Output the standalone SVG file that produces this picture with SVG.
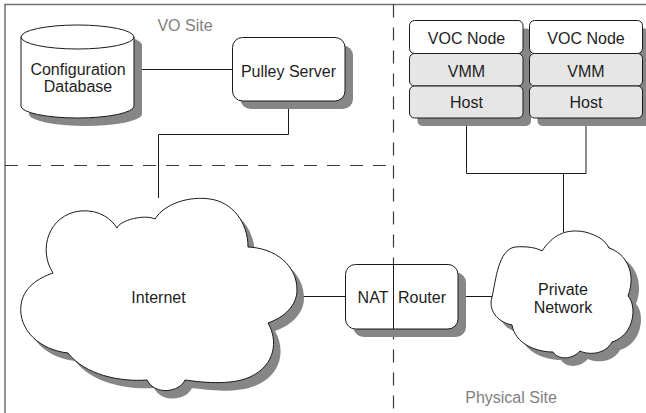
<svg xmlns="http://www.w3.org/2000/svg" width="646" height="413" viewBox="0 0 646 413">
  <style>
    .frame{fill:none;stroke:#707070;stroke-width:1.5}
    .dash{fill:none;stroke:#3a3a3a;stroke-width:1.2;stroke-dasharray:13 10}
    .shadow{fill:#868686;stroke:none}
    .shape{fill:#ffffff;stroke:#1a1a1a;stroke-width:1}
    .gray{fill:#e6e6e6;stroke:#1a1a1a;stroke-width:1}
    .wire{fill:none;stroke:#1a1a1a;stroke-width:1}
    text{font-family:"Liberation Sans",Arial,sans-serif;font-size:16px;fill:#1e1e1e;text-anchor:middle}
    text.site{fill:#808080}
  </style>
  <defs>
    <path id="cloud-internet" d="M53,273 C38,250 48,215 80,211 C100,209 112,220 117,228 C120,220 145,214 155,219 C165,203 190,196 210,199 C232,202 248,222 248,247 C275,248 297,265 297,290 C297,305 285,317 268,323 C278,340 276,365 250,377 C230,386 200,382 185,380 C180,392 155,396 147,380 C120,382 85,375 68,353 C40,350 18,330 21,305 C23,288 38,278 53,273 Z"/>
    <path id="cloud-private" d="M492,297 C496,280 498,250 515,247 C528,246 537,248 542,251 C552,236 565,228 585,232 C597,235 605,240 609,248 C625,253 637,272 628,296 C637,305 635,335 612,342 C605,355 588,355 580,351 C572,360 558,360 553,352 C535,352 515,343 512,325 C497,322 488,310 492,297 Z"/>
    <path id="cylinder-body" d="M21,37 A56.5,12 0 0 1 134,37 V106 A56.5,12 0 0 1 21,106 Z"/>
  </defs>

  <!-- site boundaries -->
  <g id="boundaries">
    <path class="frame" d="M5,413 V4.5 H646"/>
    <path class="dash" d="M5,165.5 H393.5"/>
    <path class="dash" d="M393.5,4.5 V413"/>
    <text class="site" x="185" y="31">VO Site</text>
    <text class="site" x="511" y="403">Physical Site</text>
  </g>

  <!-- connectors -->
  <g id="connectors">
    <path class="wire" d="M134,69.5 H232.5"/>
    <path class="wire" d="M288.5,101 V134.5 H158.5 V198"/>
    <path class="wire" d="M297,296.5 H345.5"/>
    <path class="wire" d="M458,296.5 H492"/>
    <path class="wire" d="M466.5,118 V173.5 H586 V118"/>
    <path class="wire" d="M563.5,173.5 V232"/>
  </g>

  <g id="config-db">
    <use href="#cylinder-body" class="shadow" transform="translate(8,8)"/>
    <use href="#cylinder-body" class="shape"/>
    <path class="wire" d="M21,37 A56.5,12 0 0 0 134,37"/>
    <text x="78" y="75">Configuration</text>
    <text x="78" y="92">Database</text>
  </g>

  <g id="pulley-server">
    <rect class="shadow" x="240.5" y="45.5" width="112.5" height="63.5" rx="10"/>
    <rect class="shape" x="232.5" y="37.5" width="112.5" height="63.5" rx="10"/>
    <text x="288.5" y="76.5">Pulley Server</text>
  </g>

  <g id="internet">
    <use href="#cloud-internet" class="shadow" transform="translate(7,8)"/>
    <use href="#cloud-internet" class="shape"/>
    <text x="158.5" y="303">Internet</text>
  </g>

  <g id="nat-router">
    <rect class="shadow" x="353.5" y="272.5" width="112.5" height="64.5" rx="10"/>
    <rect class="shape" x="345.5" y="264.5" width="112.5" height="64.5" rx="10"/>
    <path class="wire" d="M393.5,264.5 V329"/>
    <text x="373" y="302.5">NAT</text>
    <text x="422" y="302.5">Router</text>
  </g>

  <g id="private-network">
    <use href="#cloud-private" class="shadow" transform="translate(8,8)"/>
    <use href="#cloud-private" class="shape"/>
    <text x="563" y="295">Private</text>
    <text x="563" y="312.5">Network</text>
  </g>

  <g id="voc-node-1">
    <rect class="shadow" x="417.5" y="28.5" width="113.5" height="97.5" rx="5"/>
    <rect class="shape" x="409.5" y="20.5" width="113.5" height="33" rx="5"/>
    <rect class="gray" x="409.5" y="53.5" width="113.5" height="32.5" rx="5"/>
    <rect class="gray" x="409.5" y="86" width="113.5" height="32" rx="5"/>
    <text x="466.5" y="44">VOC Node</text>
    <text x="466.5" y="76.5">VMM</text>
    <text x="466.5" y="108">Host</text>
  </g>

  <g id="voc-node-2">
    <rect class="shadow" x="537.5" y="28.5" width="113.5" height="97.5" rx="5"/>
    <rect class="shape" x="529.5" y="20.5" width="113" height="33" rx="5"/>
    <rect class="gray" x="529.5" y="53.5" width="113" height="32.5" rx="5"/>
    <rect class="gray" x="529.5" y="86" width="113" height="32" rx="5"/>
    <text x="586" y="44">VOC Node</text>
    <text x="586" y="76.5">VMM</text>
    <text x="586" y="108">Host</text>
  </g>
</svg>
